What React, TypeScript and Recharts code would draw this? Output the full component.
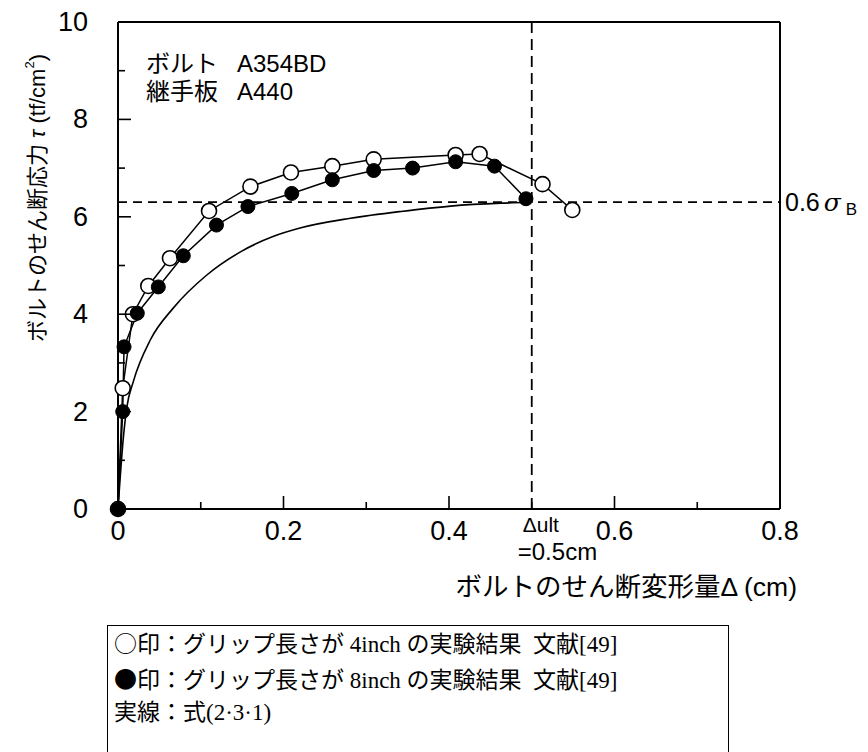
import React from 'react';
import { LineChart, Line, XAxis, YAxis, ReferenceLine, Label, Customized } from 'recharts';

// ---- data ----
const openX = [0, 0.0057, 0.018, 0.0366, 0.0628, 0.11, 0.16, 0.209, 0.259, 0.309, 0.408, 0.437, 0.513, 0.549];
const openY = [0, 2.48, 4.0, 4.58, 5.15, 6.12, 6.62, 6.91, 7.04, 7.18, 7.27, 7.29, 6.67, 6.14];

const filledX = [0, 0.0057, 0.0073, 0.0233, 0.0487, 0.0789, 0.119, 0.157, 0.21, 0.259, 0.309, 0.356, 0.408, 0.455, 0.493];
const filledY = [0, 2.0, 3.33, 4.02, 4.56, 5.2, 5.83, 6.21, 6.48, 6.76, 6.95, 7.0, 7.13, 7.04, 6.37];

const curveX = [0, 0.0064, 0.0105, 0.0186, 0.039, 0.067, 0.107, 0.148, 0.188, 0.22, 0.281, 0.342, 0.402, 0.463, 0.5];
const curveY = [0, 1.45, 2.07, 2.62, 3.47, 4.13, 4.8, 5.28, 5.6, 5.77, 5.97, 6.11, 6.22, 6.28, 6.3];

const xTicks = [0, 0.1, 0.2, 0.3, 0.4, 0.5, 0.6, 0.7, 0.8];
const xMajorLabels: Record<string, string> = { '0': '0', '0.2': '0.2', '0.4': '0.4', '0.6': '0.6', '0.8': '0.8' };
const yTicks = [0, 1, 2, 3, 4, 5, 6, 7, 8, 9, 10];
const yMajorLabels: Record<string, string> = { '0': '0', '2': '2', '4': '4', '6': '6', '8': '8', '10': '10' };

const sigmaLine = 6.3;
const ultLine = 0.5;

const noteLines = [
  { jp: 'ボルト', en: 'A354BD' },
  { jp: '継手板', en: 'A440' },
];
const legendLines = [
  { sym: '○', text: '印：グリップ長さが 4inch の実験結果  文献[49]' },
  { sym: '●', text: '印：グリップ長さが 8inch の実験結果  文献[49]' },
  { sym: '', text: '実線：式(2·3·1)' },
];

const openData = openX.map((x, i) => ({ x, y: openY[i] }));
const filledData = filledX.map((x, i) => ({ x, y: filledY[i] }));
const curveData = curveX.map((x, i) => ({ x, y: curveY[i] }));

const SANS = "'Liberation Sans', Arial, 'Noto Sans CJK JP', sans-serif";
const SERIF = "'Liberation Serif', 'Noto Sans CJK JP', serif";

const MAJ = 13;
const MIN = 7;

const keyOf = (v: number) => String(Math.round(v * 10) / 10);

const BottomTick = (props: any) => {
  const { x, y, payload } = props;
  const lab = xMajorLabels[keyOf(payload.value)];
  const major = lab !== undefined;
  return (
    <g>
      <line x1={x} y1={y} x2={x} y2={y - (major ? MAJ : MIN)} stroke="#000" strokeWidth={1.6} />
      {major && (
        <text x={x} y={y + 22} textAnchor="middle" dominantBaseline="central" fontSize={27} fontFamily={SANS} fill="#000">
          {lab}
        </text>
      )}
    </g>
  );
};

const TopTick = (props: any) => {
  const { x, y, payload } = props;
  const major = xMajorLabels[keyOf(payload.value)] !== undefined;
  return <line x1={x} y1={y} x2={x} y2={y + (major ? MAJ : MIN)} stroke="#000" strokeWidth={1.6} />;
};

const LeftTick = (props: any) => {
  const { x, y, payload } = props;
  const lab = yMajorLabels[String(payload.value)];
  const major = lab !== undefined;
  return (
    <g>
      <line x1={x} y1={y} x2={x + (major ? MAJ : MIN)} y2={y} stroke="#000" strokeWidth={1.6} />
      {major && (
        <text x={x - 30} y={y} textAnchor="end" dominantBaseline="central" fontSize={27} fontFamily={SANS} fill="#000">
          {lab}
        </text>
      )}
    </g>
  );
};

const RightTick = (props: any) => {
  const { x, y, payload } = props;
  const major = yMajorLabels[String(payload.value)] !== undefined;
  return <line x1={x} y1={y} x2={x - (major ? MAJ : MIN)} y2={y} stroke="#000" strokeWidth={1.6} />;
};

const YTitle = (props: any) => {
  const vb = props.viewBox || { x: 58, y: 22, width: 60, height: 487 };
  const cx = vb.x - 21;
  const cy = vb.y + 176;
  return (
    <text
      transform={`rotate(-90 ${cx} ${cy})`}
      x={cx}
      y={cy}
      textAnchor="middle"
      dominantBaseline="central"
      fontSize={22}
      fontFamily={SANS}
      fill="#000"
    >
      ボルトのせん断応力 <tspan fontStyle="italic">τ</tspan> (tf/cm
      <tspan dy={-8} fontSize={13}>2</tspan>
      <tspan dy={8}>)</tspan>
    </text>
  );
};

const XTitle = (props: any) => {
  const vb = props.viewBox || { x: 118, y: 509, width: 662, height: 30 };
  return (
    <text
      x={vb.x + vb.width + 17}
      y={vb.y + 78}
      textAnchor="end"
      dominantBaseline="central"
      fontSize={26.5}
      fontFamily={SANS}
      fill="#000"
    >
      ボルトのせん断変形量Δ (cm)
    </text>
  );
};

const SigmaLabel = (props: any) => {
  const vb = props.viewBox;
  if (!vb) return null;
  const x = vb.x + vb.width + 5;
  const y = vb.y;
  return (
    <text x={x} y={y} dominantBaseline="central" fontSize={25} fontFamily={SANS} fill="#000">
      0.6
      <tspan dx={4} fontStyle="italic" fontFamily="'DejaVu Serif', serif">σ</tspan>
      <tspan dx={5} dy={7} fontSize={17}>B</tspan>
    </text>
  );
};

const UltLabel = (props: any) => {
  const vb = props.viewBox;
  if (!vb) return null;
  const x = vb.x;
  const bottom = vb.y + vb.height;
  return (
    <g fontFamily={SANS} fill="#000">
      <text x={x - 9} y={bottom + 23} fontSize={21}>Δult</text>
      <text x={x - 14} y={bottom + 51} fontSize={24}>=0.5cm</text>
    </g>
  );
};

const TopLeftNote = () => (
  <g fontFamily={SANS} fill="#000" fontSize={24}>
    {noteLines.map((l, i) => (
      <g key={i}>
        <text x={146} y={72 + i * 28}>{l.jp}</text>
        <text x={237} y={72 + i * 28}>{l.en}</text>
      </g>
    ))}
  </g>
);

export default function App() {
  const axisLine = { stroke: '#000', strokeWidth: 2 };
  return (
    <div style={{ position: 'absolute', left: 0, top: 0, width: 868, height: 752, background: '#fff', overflow: 'hidden' }}>
      <LineChart width={868} height={752} margin={{ top: 21, right: 87, bottom: 213, left: 58 }}>
        <XAxis
          xAxisId="b"
          type="number"
          dataKey="x"
          domain={[0, 0.8]}
          ticks={xTicks}
          interval={0}
          height={30}
          tickSize={0}
          tickMargin={0}
          tickLine={false}
          tick={<BottomTick />}
          axisLine={axisLine}
        >
          <Label content={<XTitle />} />
        </XAxis>
        <XAxis
          xAxisId="t"
          orientation="top"
          type="number"
          dataKey="x"
          domain={[0, 0.8]}
          ticks={xTicks}
          interval={0}
          height={1}
          tickSize={0}
          tickMargin={0}
          tickLine={false}
          tick={<TopTick />}
          axisLine={axisLine}
        />
        <YAxis
          yAxisId="l"
          type="number"
          domain={[0, 10]}
          ticks={yTicks}
          interval={0}
          width={60}
          tickSize={0}
          tickMargin={0}
          tickLine={false}
          tick={<LeftTick />}
          axisLine={axisLine}
        >
          <Label content={<YTitle />} />
        </YAxis>
        <YAxis
          yAxisId="r"
          orientation="right"
          type="number"
          domain={[0, 10]}
          ticks={yTicks}
          interval={0}
          width={1}
          tickSize={0}
          tickMargin={0}
          tickLine={false}
          tick={<RightTick />}
          axisLine={axisLine}
        />
        <ReferenceLine
          xAxisId="b"
          yAxisId="l"
          y={sigmaLine}
          stroke="#000"
          strokeWidth={1.8}
          strokeDasharray="9 6"
          label={<SigmaLabel />}
        />
        <ReferenceLine
          xAxisId="b"
          yAxisId="l"
          x={ultLine}
          stroke="#000"
          strokeWidth={1.8}
          strokeDasharray="11 6"
          label={<UltLabel />}
        />
        <Line
          xAxisId="b"
          yAxisId="l"
          data={curveData}
          dataKey="y"
          type="monotone"
          stroke="#000"
          strokeWidth={1.6}
          dot={false}
          activeDot={false}
          isAnimationActive={false}
        />
        <Line
          xAxisId="b"
          yAxisId="l"
          data={openData}
          dataKey="y"
          type="linear"
          stroke="#000"
          strokeWidth={1.5}
          dot={{ r: 7.5, fill: '#fff', stroke: '#000', strokeWidth: 1.6 }}
          activeDot={false}
          isAnimationActive={false}
        />
        <Line
          xAxisId="b"
          yAxisId="l"
          data={filledData}
          dataKey="y"
          type="linear"
          stroke="#000"
          strokeWidth={1.5}
          dot={{ r: 7, fill: '#000', stroke: '#000', strokeWidth: 1 }}
          activeDot={false}
          isAnimationActive={false}
        />
        <Customized component={<TopLeftNote />} />
      </LineChart>
      <div
        style={{
          position: 'absolute',
          left: 107,
          top: 625,
          width: 622,
          height: 160,
          border: '1.5px solid #000',
          boxSizing: 'border-box',
          fontFamily: SERIF,
          fontSize: 23,
          lineHeight: '32.5px',
          paddingTop: 0,
          paddingLeft: 6,
          color: '#000',
          whiteSpace: 'pre',
        }}
      >
        {legendLines.map((l, i) => (
          <div key={i}>
            {l.sym && <span style={{ fontFamily: "'Noto Sans CJK JP', sans-serif" }}>{l.sym}</span>}
            {l.text}
          </div>
        ))}
      </div>
    </div>
  );
}
